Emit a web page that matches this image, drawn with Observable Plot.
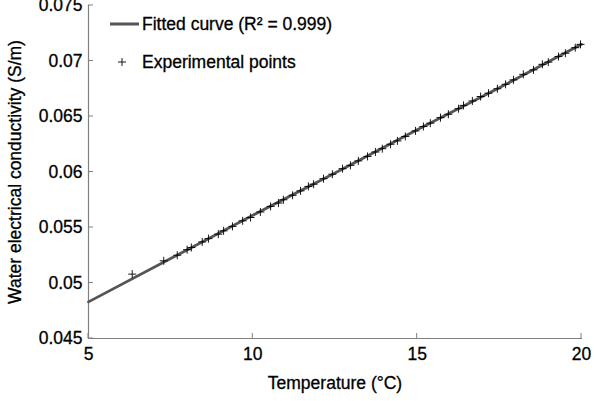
<!DOCTYPE html>
<html>
<head>
<meta charset="utf-8">
<script src="https://cdn.jsdelivr.net/npm/d3@7"></script>
<script src="https://cdn.jsdelivr.net/npm/@observablehq/plot@0.6"></script>
<style>
  html, body { margin: 0; padding: 0; background: #fff; }
  #chart { position: relative; width: 604px; height: 401px; }
  #chart svg text { stroke: #000; stroke-width: 0.3px; }
</style>
</head>
<body>
<div id="chart"></div>
<script>
// Experimental points: temperature (°C) and conductivity (S/m)
const expTemp = [6.33, 7.29, 7.70, 8.00, 8.13, 8.46, 8.65, 8.95, 9.11, 9.38, 9.69, 9.93,
  10.23, 10.54, 10.78, 10.93, 11.21, 11.45, 11.69, 11.85, 12.15, 12.42, 12.73, 12.97,
  13.21, 13.49, 13.73, 13.94, 14.19, 14.40, 14.64, 14.95, 15.19, 15.40, 15.71, 15.95,
  16.26, 16.41, 16.68, 16.93, 17.17, 17.44, 17.69, 17.93, 18.23, 18.54, 18.81, 18.99,
  19.30, 19.51, 19.81, 19.97];
const expCond = [0.0508, 0.0520, 0.0525, 0.0530, 0.0532, 0.0537, 0.0540, 0.0544, 0.0547, 0.0551, 0.0556, 0.0559,
  0.0564, 0.0569, 0.0572, 0.0575, 0.0579, 0.0583, 0.0587, 0.0589, 0.0594, 0.0598, 0.0603, 0.0606,
  0.0610, 0.0614, 0.0618, 0.0621, 0.0625, 0.0628, 0.0632, 0.0637, 0.0641, 0.0644, 0.0649, 0.0652,
  0.0657, 0.0660, 0.0664, 0.0668, 0.0671, 0.0675, 0.0679, 0.0683, 0.0688, 0.0692, 0.0697, 0.0699,
  0.0704, 0.0707, 0.0712, 0.0715];
// Fitted curve, read at a few temperatures
const fitTemp = [5, 7.5, 10, 12.5, 15, 17.5, 20];
const fitCond = [0.0483, 0.0522, 0.0561, 0.0599, 0.0638, 0.0676, 0.0715];
// Ticks
const xTicks = [5, 10, 15, 20];
const yTicks = [0.045, 0.05, 0.055, 0.06, 0.065, 0.07, 0.075];
const yTickLabels = ["0.045", "0.05", "0.055", "0.06", "0.065", "0.07", "0.075"];
const legendLabels = ["Fitted curve (R\u00B2 = 0.999)", "Experimental points"];

const points = expTemp.map((t, i) => ({t, c: expCond[i]}));
const fit = fitTemp.map((t, i) => ({t, c: fitCond[i]}));

const plusSymbol = {
  draw(context, size) {
    const r = Math.sqrt(size / Math.PI);
    context.moveTo(-r, 0); context.lineTo(r, 0);
    context.moveTo(0, -r); context.lineTo(0, r);
  }
};

const font = "'Liberation Sans', Arial, Helvetica, sans-serif";
const fs = 17.5;
const axisColor = "#808080";

const plot = Plot.plot({
  width: 604,
  height: 401,
  marginLeft: 88,
  marginRight: 23,
  marginTop: 5,
  marginBottom: 63,
  style: {fontFamily: font, fontSize: fs + "px", color: "#000", background: "#fff", overflow: "visible"},
  x: {type: "linear", domain: [5, 20]},
  y: {type: "linear", domain: [0.045, 0.075]},
  marks: [
    Plot.frame({anchor: "left", stroke: axisColor, strokeWidth: 1.2}),
    Plot.frame({anchor: "bottom", stroke: axisColor, strokeWidth: 1.2}),
    Plot.axisX({ticks: xTicks, tickSize: 0, tickPadding: 9, tickFormat: d => String(d),
      fontSize: fs, label: "Temperature (°C)", labelAnchor: "center", labelArrow: "none", labelOffset: 50}),
    Plot.axisY({ticks: yTicks, tickSize: 0, tickPadding: 6,
      tickFormat: d => yTickLabels[yTicks.indexOf(d)],
      fontSize: fs, label: "Water electrical conductivity (S/m)", labelAnchor: "center", labelArrow: "none", labelOffset: 80}),
    Plot.line(fit, {x: "t", y: "c", stroke: "#555", strokeWidth: 2.8}),
    Plot.dot(points, {x: "t", y: "c", symbol: plusSymbol, r: 4, stroke: "#000", fill: "none", strokeWidth: 0.9})
  ]
});

document.getElementById("chart").appendChild(plot);

// Inward tick marks drawn with the plot's own scales
const svg = d3.select(plot);
const xs = plot.scale("x"), ys = plot.scale("y");
const tickG = svg.append("g").attr("stroke", axisColor).attr("stroke-width", 1);
const y0 = ys.apply(0.045), x0 = xs.apply(5);
xTicks.forEach(t => {
  const x = xs.apply(t);
  tickG.append("line").attr("x1", x).attr("x2", x).attr("y1", y0).attr("y2", y0 - 5);
});
yTicks.forEach(t => {
  const y = ys.apply(t);
  tickG.append("line").attr("x1", x0).attr("x2", x0 + 5).attr("y1", y).attr("y2", y);
});

// Legend inside the plot area
const lg = svg.append("g").attr("font-family", font).attr("font-size", fs).attr("text-anchor", "start");
lg.append("line").attr("x1", 110).attr("x2", 139).attr("y1", 24).attr("y2", 24)
  .attr("stroke", "#555").attr("stroke-width", 3);
lg.append("text").attr("x", 142).attr("y", 24).attr("dy", "0.35em").text(legendLabels[0]);
lg.append("path").attr("d", "M118,62h8M122,58v8").attr("stroke", "#000").attr("stroke-width", 0.9).attr("fill", "none");
lg.append("text").attr("x", 142).attr("y", 62).attr("dy", "0.35em").text(legendLabels[1]);
</script>
</body>
</html>
